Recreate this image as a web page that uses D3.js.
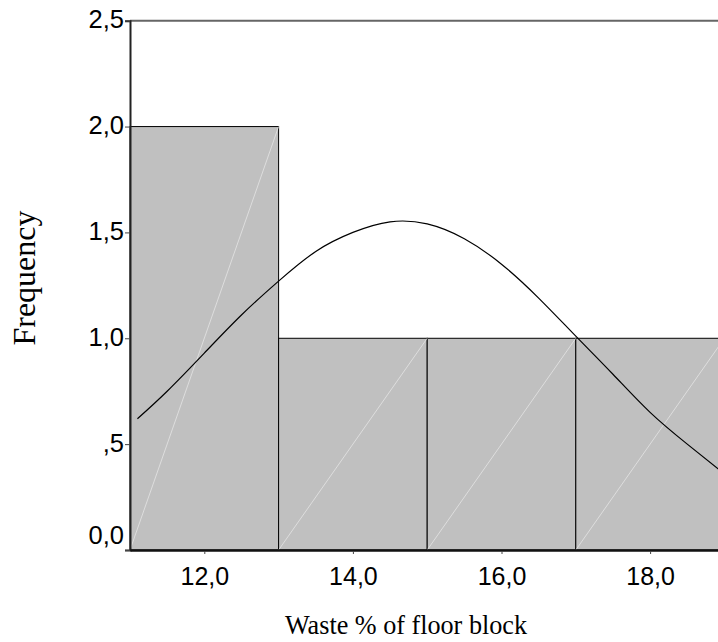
<!DOCTYPE html>
<html>
<head>
<meta charset="utf-8">
<script src="https://cdn.jsdelivr.net/npm/d3@7"></script>
<style>
  body { margin: 0; background: #fff; }
  svg { display: block; }
</style>
</head>
<body>
<script>
const w = 718;
const h = 642;

// histogram bins (lower edge, upper edge) and counts
const binStart = [11, 13, 15, 17];
const binEnd = [13, 15, 17, 19];
const counts = [2, 1, 1, 1];

// normal curve
const curveX = [11.1, 11.5, 12, 12.5, 13, 13.5, 14, 14.5, 15, 15.5, 16, 16.5, 17, 17.5, 18, 18.5, 19];
const curveY = [0.62, 0.75, 0.93, 1.11, 1.27, 1.41, 1.50, 1.55, 1.54, 1.47, 1.35, 1.19, 1.01, 0.83, 0.65, 0.50, 0.36];

const xTicks = [12, 14, 16, 18];
const xTickLabels = ["12,0", "14,0", "16,0", "18,0"];
const yTicks = [0, 0.5, 1, 1.5, 2, 2.5];
const yTickLabels = ["0,0", ",5", "1,0", "1,5", "2,0", "2,5"];

const plotLeft = 130, plotTop = 20.7, plotBottom = 550, plotRight = 724.4;

const svg = d3.select("body")
    .append("svg")
    .attr("width", w)
    .attr("height", h);

const xScale = d3.scaleLinear()
    .domain([11, 19])
    .range([plotLeft, plotRight]);

const yScale = d3.scaleLinear()
    .domain([0, 2.5])
    .range([plotBottom, plotTop]);

const bins = counts.map((c, i) => ({ x0: binStart[i], x1: binEnd[i], n: c }));

// bars
svg.selectAll("rect.bar")
    .data(bins)
    .enter()
    .append("rect")
    .attr("class", "bar")
    .attr("x", d => xScale(d.x0))
    .attr("y", d => yScale(d.n))
    .attr("width", d => xScale(d.x1) - xScale(d.x0))
    .attr("height", d => yScale(0) - yScale(d.n))
    .attr("fill", "#c0c0c0")
    .attr("stroke", "#000")
    .attr("stroke-width", 1);

// faint diagonal inside each bar
svg.selectAll("line.diag")
    .data(bins)
    .enter()
    .append("line")
    .attr("class", "diag")
    .attr("x1", d => xScale(d.x0))
    .attr("y1", yScale(0))
    .attr("x2", d => xScale(d.x1))
    .attr("y2", d => yScale(d.n))
    .attr("stroke", "#e4e4e4")
    .attr("stroke-width", 0.8);

// normal curve
const line = d3.line()
    .x((d, i) => xScale(curveX[i]))
    .y(d => yScale(d))
    .curve(d3.curveNatural);

svg.append("path")
    .attr("d", line(curveY))
    .attr("fill", "none")
    .attr("stroke", "#000")
    .attr("stroke-width", 1.2);

// frame: top border
svg.append("line")
    .attr("x1", plotLeft).attr("x2", w)
    .attr("y1", plotTop).attr("y2", plotTop)
    .attr("stroke", "#666")
    .attr("stroke-width", 2);

// y axis
const yAxis = d3.axisLeft(yScale)
    .tickValues(yTicks)
    .tickSize(5)
    .tickFormat((d, i) => yTickLabels[i]);

const gy = svg.append("g")
    .attr("transform", "translate(" + plotLeft + ",0)")
    .call(yAxis);
gy.select(".domain").attr("stroke", "#222").attr("stroke-width", 2);
gy.selectAll(".tick line").attr("stroke", "#444");
gy.selectAll(".tick text")
    .attr("x", -6)
    .attr("dy", (d) => d === 0 ? "-0.24em" : "0.27em")
    .style("font-family", "'Liberation Sans', Arial, sans-serif")
    .style("font-size", "25.5px")
    .attr("fill", "#000");

// x axis
const xAxis = d3.axisBottom(xScale)
    .tickValues(xTicks)
    .tickSizeInner(4)
    .tickSizeOuter(0)
    .tickFormat((d, i) => xTickLabels[i]);

const gx = svg.append("g")
    .attr("transform", "translate(0," + plotBottom + ")")
    .call(xAxis);
gx.select(".domain").attr("stroke", "#111").attr("stroke-width", 2.5);
gx.selectAll(".tick line").attr("stroke", "#444").attr("y1", 1);
gx.selectAll(".tick text")
    .attr("y", 35)
    .attr("dy", 0)
    .style("font-family", "'Liberation Sans', Arial, sans-serif")
    .style("font-size", "25px")
    .attr("fill", "#000");

// axis titles
svg.append("text")
    .attr("x", 406)
    .attr("y", 634)
    .attr("text-anchor", "middle")
    .attr("textLength", 242)
    .attr("lengthAdjust", "spacingAndGlyphs")
    .style("font-family", "'Liberation Serif', 'Times New Roman', serif")
    .style("font-size", "28px")
    .text("Waste % of floor block");

svg.append("text")
    .attr("transform", "translate(34.5,278) rotate(-90)")
    .attr("text-anchor", "middle")
    .style("font-family", "'Liberation Serif', 'Times New Roman', serif")
    .style("font-size", "32px")
    .text("Frequency");
</script>
</body>
</html>
